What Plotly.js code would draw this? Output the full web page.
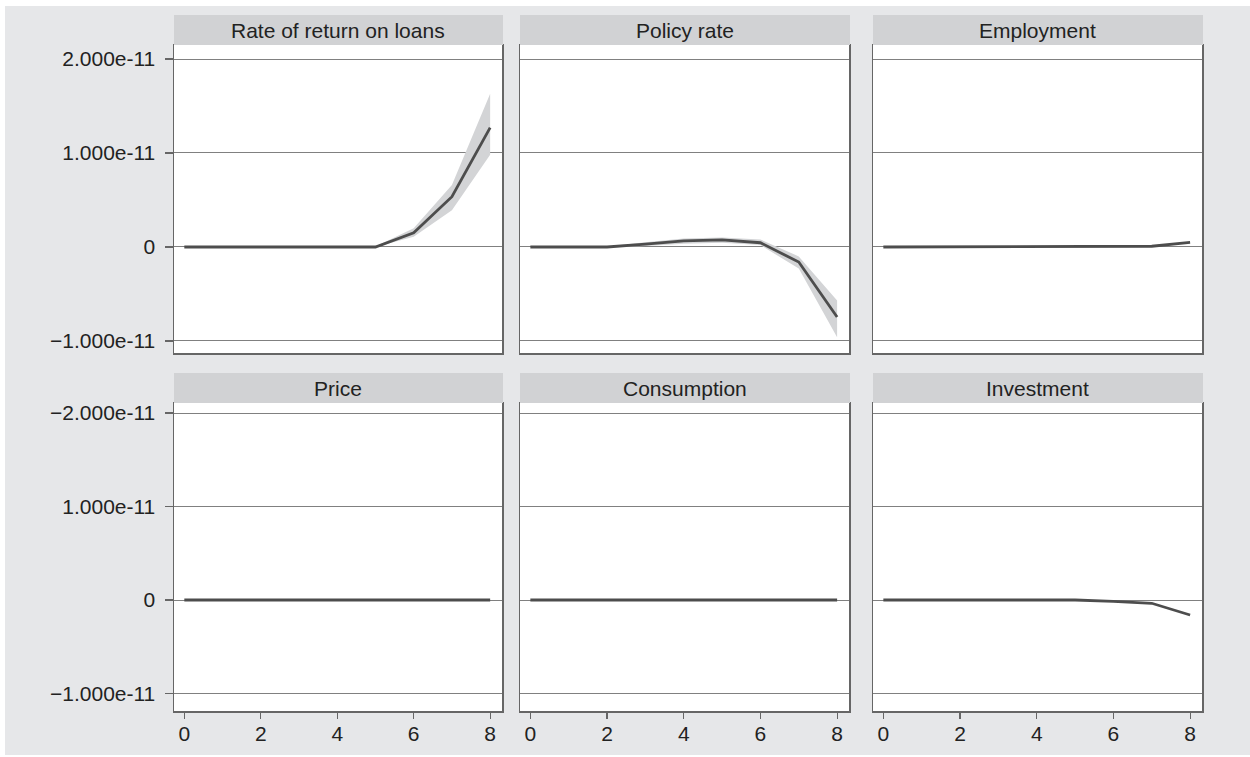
<!DOCTYPE html>
<html>
<head>
<meta charset="utf-8">
<script src="https://cdn.plot.ly/plotly-3.0.1.min.js"></script>
<style>
  html, body { margin: 0; padding: 0; background: white; }
  #chart { position: absolute; left: 5px; top: 6px; width: 1245px; height: 749px; }
</style>
</head>
<body>
<div id="chart"></div>
<script>
// periods after the shock
var steps = [0, 1, 2, 3, 4, 5, 6, 7, 8];

// responses, in units of 1e-11
var UNIT = 1e-11;
var rateReturn   = [0, 0, 0, 0, 0, 0, 0.15, 0.535, 1.27];
var rateReturnLo = [0, 0, 0, 0, 0, 0, 0.11, 0.39, 0.98];
var rateReturnHi = [0, 0, 0, 0, 0, 0.005, 0.20, 0.66, 1.63];

var policyRate   = [0, 0, 0, 0.03, 0.065, 0.075, 0.045, -0.16, -0.745];
var policyRateLo = [0, 0, -0.005, 0.01, 0.035, 0.045, 0.02, -0.23, -0.96];
var policyRateHi = [0, 0, 0.005, 0.05, 0.09, 0.10, 0.08, -0.10, -0.57];

var employment  = [0, 0, 0, 0, 0, 0, 0, 0.008, 0.05];
var price       = [0, 0, 0, 0, 0, 0, 0, 0, 0];
var consumption = [0, 0, 0, 0, 0, 0, 0, 0, 0];
var investment  = [0, 0, 0, 0, 0, 0, -0.015, -0.035, -0.16];

var panelTitles = ['Rate of return on loans', 'Policy rate', 'Employment',
                   'Price', 'Consumption', 'Investment'];

var xTicks = [0, 2, 4, 6, 8];
var yTicks = [2, 1, 0, -1];
var yTickTextTop = ['2.000e-11', '1.000e-11', '0', '\u22121.000e-11'];
var yTickTextBottom = ['\u22122.000e-11', '1.000e-11', '0', '\u22121.000e-11'];

var panels = [
  {mid: rateReturn, lo: rateReturnLo, hi: rateReturnHi},
  {mid: policyRate, lo: policyRateLo, hi: policyRateHi},
  {mid: employment},
  {mid: price},
  {mid: consumption},
  {mid: investment}
];

// page geometry in pixels (div sits at 5,6 and is 1245x749)
var W = 1245, H = 749, OX = 5, OY = 6;
function fx(p) { return (p - OX) / W; }
function fy(p) { return 1 - (p - OY) / H; }

var cols = [[174, 502], [520, 849], [873, 1202]];
var rows = [[45, 353], [403, 711]];
var headH = 30;

var font = {family: 'Liberation Sans, Arial, Helvetica, sans-serif', size: 21, color: '#222'};
var frameColor = '#666';
var gridColor = '#808080';
var lineColor = '#4d4d4d';
var bandColor = '#d3d4d6';
var headColor = '#d1d2d4';

var traces = [];
var layout = {
  width: W, height: H,
  margin: {l: 0, r: 0, t: 0, b: 0},
  paper_bgcolor: '#e6e7e9',
  plot_bgcolor: 'white',
  showlegend: false,
  font: font,
  shapes: [],
  annotations: []
};

function scale(arr) { return arr.map(function(v) { return v * UNIT; }); }

panels.forEach(function(p, i) {
  var r = Math.floor(i / 3), c = i % 3;
  var n = i + 1;
  var xa = n === 1 ? 'x' : 'x' + n;
  var ya = n === 1 ? 'y' : 'y' + n;

  if (p.lo) {
    traces.push({
      x: steps.concat(steps.slice().reverse()),
      y: scale(p.hi).concat(scale(p.lo).reverse()),
      xaxis: xa, yaxis: ya,
      mode: 'lines', fill: 'toself', fillcolor: bandColor,
      line: {width: 0, color: bandColor},
      hoverinfo: 'skip'
    });
  }
  traces.push({
    x: steps, y: scale(p.mid),
    xaxis: xa, yaxis: ya,
    mode: 'lines',
    line: {color: lineColor, width: 2.8}
  });

  var bottom = r === 1;
  var yRange = r === 0 ? [-1.128 * UNIT, 2.149 * UNIT] : [-1.187 * UNIT, 2.107 * UNIT];

  layout['xaxis' + (n === 1 ? '' : n)] = {
    anchor: ya,
    domain: [fx(cols[c][0]), fx(cols[c][1])],
    range: [-0.27, 8.31],
    tickvals: xTicks,
    showticklabels: bottom,
    ticks: bottom ? 'outside' : '',
    ticklen: 6, tickwidth: 1.2, tickcolor: frameColor,
    ticklabelstandoff: -3,
    showgrid: false, zeroline: false,
    showline: true, mirror: true, linecolor: frameColor, linewidth: 1.5,
    tickfont: font,
    fixedrange: true
  };
  layout['yaxis' + (n === 1 ? '' : n)] = {
    anchor: xa,
    domain: [fy(rows[r][1]), fy(rows[r][0])],
    range: yRange,
    tickvals: yTicks.map(function(v) { return v * UNIT; }),
    ticktext: r === 0 ? yTickTextTop : yTickTextBottom,
    showticklabels: c === 0,
    ticks: c === 0 ? 'outside' : '',
    ticklen: 8, tickwidth: 1.2, tickcolor: frameColor,
    ticklabelstandoff: 5,
    showgrid: true, gridcolor: gridColor, gridwidth: 1,
    zeroline: false,
    showline: true, mirror: true, linecolor: frameColor, linewidth: 1.5,
    tickfont: font,
    fixedrange: true
  };

  layout.shapes.push({
    type: 'rect', xref: 'paper', yref: 'paper',
    x0: fx(cols[c][0]), x1: fx(cols[c][1] + 1),
    y0: fy(rows[r][0]), y1: fy(rows[r][0] - headH),
    fillcolor: headColor, line: {width: 0}
  });
  layout.annotations.push({
    xref: 'paper', yref: 'paper',
    x: fx((cols[c][0] + cols[c][1]) / 2),
    y: fy(rows[r][0] - headH / 2),
    xanchor: 'center', yanchor: 'middle',
    text: panelTitles[i], showarrow: false,
    font: font
  });
});

Plotly.newPlot('chart', traces, layout, {displayModeBar: false, staticPlot: true});
</script>
</body>
</html>
